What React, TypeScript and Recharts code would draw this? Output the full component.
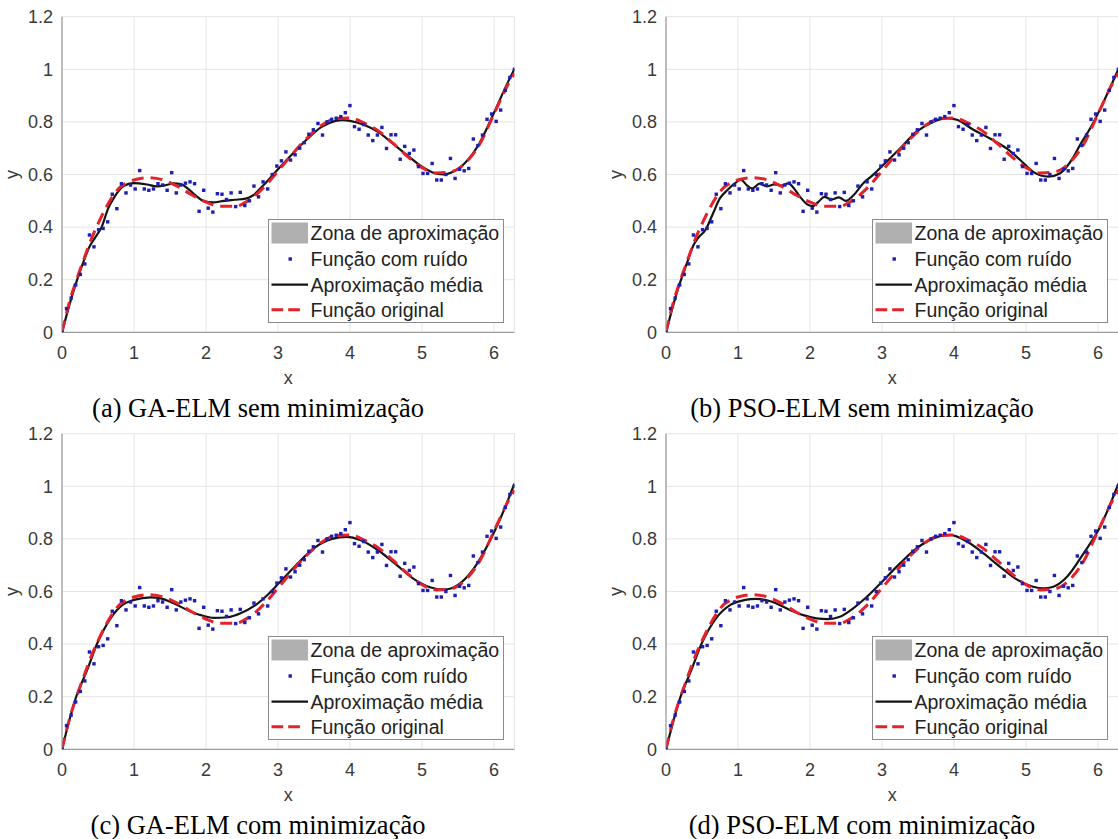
import { ComposedChart, Line, Scatter, XAxis, YAxis, CartesianGrid } from 'recharts'

// noisy samples (same in all four panels)
const noiseX = [
  0, 0.063, 0.127, 0.19, 0.254, 0.317, 0.381, 0.444, 0.508, 0.571, 0.635, 0.698, 0.762, 0.825, 0.889, 0.952,
  1.016, 1.079, 1.143, 1.206, 1.27, 1.333, 1.397, 1.46, 1.524, 1.587, 1.651, 1.714, 1.778, 1.841, 1.904, 1.968,
  2.031, 2.095, 2.158, 2.222, 2.285, 2.349, 2.412, 2.476, 2.539, 2.603, 2.666, 2.73, 2.793, 2.857, 2.92, 2.984,
  3.047, 3.11, 3.174, 3.237, 3.301, 3.364, 3.428, 3.491, 3.555, 3.618, 3.682, 3.745, 3.808, 3.872, 3.935, 3.999,
  4.062, 4.126, 4.189, 4.253, 4.316, 4.38, 4.443, 4.507, 4.57, 4.634, 4.697, 4.76, 4.824, 4.887, 4.951, 5.014,
  5.078, 5.141, 5.205, 5.268, 5.332, 5.395, 5.459, 5.522, 5.586, 5.649, 5.713, 5.776, 5.84, 5.903, 5.967, 6.03,
  6.093, 6.157, 6.22, 6.283,
]
const noiseY = [
  0, 0.09, 0.13, 0.18, 0.22, 0.26, 0.37, 0.325, 0.39, 0.395, 0.42, 0.525, 0.47, 0.565, 0.53, 0.56,
  0.545, 0.615, 0.545, 0.54, 0.545, 0.565, 0.56, 0.54, 0.607, 0.53, 0.56, 0.567, 0.572, 0.565, 0.46, 0.54,
  0.472, 0.457, 0.527, 0.525, 0.505, 0.53, 0.478, 0.532, 0.482, 0.5, 0.556, 0.515, 0.572, 0.545, 0.6, 0.632,
  0.652, 0.686, 0.655, 0.675, 0.7, 0.721, 0.753, 0.77, 0.794, 0.75, 0.8, 0.81, 0.814, 0.82, 0.835, 0.862,
  0.782, 0.772, 0.79, 0.75, 0.729, 0.75, 0.779, 0.699, 0.751, 0.751, 0.658, 0.707, 0.68, 0.693, 0.63, 0.604,
  0.604, 0.642, 0.579, 0.579, 0.6, 0.661, 0.585, 0.62, 0.614, 0.623, 0.735, 0.71, 0.75, 0.81, 0.83, 0.802,
  0.845, 0.92, 0.969, 1.0,
]

// original function (red dashed)
const origX = [0, 0.1, 0.2, 0.3, 0.4, 0.5, 0.6, 0.7, 0.8, 0.9, 1.0, 1.2, 1.4, 1.6, 1.8, 2.0, 2.2, 2.4, 2.6, 2.8, 3.0, 3.2, 3.4, 3.6, 3.8, 4.0, 4.2, 4.4, 4.6, 4.8, 5.0, 5.2, 5.4, 5.6, 5.8, 6.0, 6.2, 6.283]
const origY = [0, 0.112, 0.198, 0.275, 0.35, 0.412, 0.468, 0.515, 0.55, 0.568, 0.579, 0.588, 0.58, 0.556, 0.523, 0.495, 0.479, 0.479, 0.503, 0.55, 0.613, 0.678, 0.738, 0.786, 0.812, 0.815, 0.795, 0.765, 0.718, 0.668, 0.626, 0.606, 0.61, 0.643, 0.715, 0.83, 0.945, 0.985]

// mean approximation (black) per panel
const gaSemX = [0, 0.15, 0.3, 0.39, 0.46, 0.55, 0.64, 0.74, 0.85, 0.99, 1.18, 1.32, 1.45, 1.55, 1.65, 1.74, 1.85, 1.97, 2.1, 2.25, 2.4, 2.55, 2.65, 2.8, 3.0, 3.2, 3.4, 3.6, 3.8, 3.9, 4.0, 4.2, 4.4, 4.6, 4.8, 5.0, 5.2, 5.3, 5.4, 5.6, 5.8, 6.0, 6.2, 6.283]
const gaSemY = [0, 0.148, 0.27, 0.33, 0.36, 0.4, 0.47, 0.52, 0.555, 0.567, 0.562, 0.555, 0.56, 0.566, 0.564, 0.548, 0.522, 0.499, 0.494, 0.5, 0.504, 0.508, 0.52, 0.56, 0.62, 0.678, 0.733, 0.78, 0.804, 0.807, 0.804, 0.788, 0.76, 0.716, 0.672, 0.63, 0.603, 0.6, 0.607, 0.645, 0.72, 0.835, 0.955, 1.0]

const psoSemX = [0, 0.15, 0.3, 0.38, 0.45, 0.55, 0.65, 0.75, 0.85, 0.95, 1.04, 1.12, 1.2, 1.3, 1.4, 1.5, 1.6, 1.7, 1.77, 1.86, 1.97, 2.04, 2.12, 2.2, 2.3, 2.4, 2.5, 2.6, 2.74, 2.86, 3.02, 3.25, 3.48, 3.71, 3.9, 4.04, 4.27, 4.5, 4.73, 4.92, 5.1, 5.31, 5.47, 5.66, 5.75, 5.9, 6.05, 6.2, 6.283]
const psoSemY = [0, 0.15, 0.27, 0.33, 0.36, 0.39, 0.45, 0.51, 0.54, 0.565, 0.58, 0.56, 0.547, 0.565, 0.555, 0.562, 0.558, 0.566, 0.55, 0.516, 0.485, 0.48, 0.497, 0.515, 0.505, 0.513, 0.5, 0.52, 0.567, 0.595, 0.637, 0.699, 0.763, 0.8, 0.814, 0.808, 0.77, 0.737, 0.699, 0.655, 0.61, 0.592, 0.604, 0.667, 0.712, 0.78, 0.86, 0.95, 1.0]

const gaComX = [0, 0.19, 0.35, 0.49, 0.675, 0.84, 1.0, 1.23, 1.37, 1.55, 1.74, 1.93, 2.11, 2.3, 2.48, 2.67, 2.85, 3.01, 3.25, 3.5, 3.75, 3.95, 4.15, 4.4, 4.65, 4.9, 5.1, 5.3, 5.5, 5.7, 5.9, 6.1, 6.283]
const gaComY = [0, 0.194, 0.302, 0.403, 0.498, 0.549, 0.568, 0.578, 0.574, 0.555, 0.53, 0.51, 0.5, 0.502, 0.517, 0.545, 0.586, 0.631, 0.7, 0.765, 0.8, 0.808, 0.795, 0.755, 0.7, 0.645, 0.617, 0.607, 0.625, 0.68, 0.77, 0.885, 1.01]

const psoComX = [0, 0.19, 0.35, 0.5, 0.7, 0.9, 1.1, 1.25, 1.45, 1.72, 1.907, 2.09, 2.25, 2.416, 2.6, 2.79, 3.0, 3.25, 3.48, 3.71, 3.94, 4.18, 4.41, 4.64, 4.87, 5.1, 5.24, 5.38, 5.57, 5.8, 6.03, 6.283]
const psoComY = [0, 0.19, 0.3, 0.405, 0.5, 0.55, 0.568, 0.572, 0.563, 0.53, 0.51, 0.498, 0.495, 0.504, 0.536, 0.58, 0.637, 0.707, 0.764, 0.802, 0.815, 0.79, 0.745, 0.694, 0.646, 0.618, 0.612, 0.618, 0.656, 0.745, 0.846, 1.01]

const xTicks = [0, 1, 2, 3, 4, 5, 6]
const yTicks = [0, 0.2, 0.4, 0.6, 0.8, 1, 1.2]
const legendLabels = ['Zona de aproximação', 'Função com ruído', 'Aproximação média', 'Função original']
const captions = [
  '(a) GA-ELM sem minimização',
  '(b) PSO-ELM sem minimização',
  '(c) GA-ELM com minimização',
  '(d) PSO-ELM com minimização',
]

const zip = (xs: number[], ys: number[]) => xs.map((x, i) => ({ x, y: ys[i] }))
const noise = zip(noiseX, noiseY)
const orig = zip(origX, origY)
const means = [zip(gaSemX, gaSemY), zip(psoSemX, psoSemY), zip(gaComX, gaComY), zip(psoComX, psoComY)]

const sans = '"Liberation Sans", Arial, sans-serif'
const serif = '"Liberation Serif", "Times New Roman", serif'
const tick = { fontSize: 18, fill: '#3a3a3a', fontFamily: sans }

// plot geometry
const AXW = 62
const PW = 452.4
const PH = 315.6
const TOP = 16.7
const CW = 530
const CH = 440

const Dot = (p: any) => <rect x={p.cx - 1.7} y={p.cy - 1.7} width={3.4} height={3.4} fill="#1e1eb0" />

function Legend({ left, top }: { left: number; top: number }) {
  const rows = [14, 40, 65.7, 90.7]
  return (
    <div
      style={{
        position: 'absolute',
        left,
        top,
        width: 236,
        height: 104,
        boxSizing: 'border-box',
        border: '1px solid #8c8c8c',
        background: '#fff',
      }}
    >
      <svg width={234} height={102} style={{ display: 'block' }}>
        <rect x={2.5} y={2.5} width={36.5} height={21} fill="#b0b0b0" />
        <rect x={19.5} y={rows[1] - 2.7} width={3.4} height={3.4} fill="#1e1eb0" />
        <line x1={2.5} x2={39} y1={rows[2] - 1} y2={rows[2] - 1} stroke="#141414" strokeWidth={2.2} />
        <line x1={2.5} x2={31} y1={rows[3] - 1} y2={rows[3] - 1} stroke="#e4222b" strokeWidth={3} strokeDasharray="11.7 5" />
        {legendLabels.map((t, i) => (
          <text key={t} x={41.5} y={rows[i] + 6} fontSize={19.5} fontFamily={sans} fill="#222">
            {t}
          </text>
        ))}
      </svg>
    </div>
  )
}

function Panel({ idx, x0, rowTop }: { idx: number; x0: number; rowTop: number }) {
  const y0 = rowTop + TOP + PH
  return (
    <>
      <div style={{ position: 'absolute', left: x0 - AXW, top: rowTop }}>
        <ComposedChart
          width={CW}
          height={CH}
          margin={{ top: TOP, right: CW - AXW - PW, bottom: CH - TOP - PH - 30, left: 0 }}
        >
          <CartesianGrid stroke="#e4e4e4" strokeWidth={1} />
          <XAxis
            type="number"
            dataKey="x"
            domain={[0, 6.2832]}
            ticks={xTicks}
            allowDataOverflow
            height={30}
            tick={tick}
            tickLine={false}
            tickSize={0}
            tickMargin={14}
            axisLine={{ stroke: '#8a8a8a' }}
          />
          <YAxis
            type="number"
            dataKey="y"
            domain={[0, 1.2]}
            ticks={yTicks}
            allowDataOverflow
            width={AXW}
            tick={tick}
            tickLine={false}
            tickSize={0}
            tickMargin={9}
            axisLine={{ stroke: '#8a8a8a' }}
            tickFormatter={(v: number) => String(Number(v.toFixed(1)))}
          />
          <Scatter data={noise} dataKey="y" shape={Dot} isAnimationActive={false} />
          <Line data={means[idx]} dataKey="y" type="monotone" stroke="#141414" strokeWidth={2.2} dot={false} isAnimationActive={false} />
          <Line data={orig} dataKey="y" type="monotone" stroke="#e4222b" strokeWidth={3} strokeDasharray="12 7" dot={false} isAnimationActive={false} />
        </ComposedChart>
      </div>
      <Legend left={x0 + 205.7} top={rowTop + 219} />
      <svg style={{ position: 'absolute', left: 0, top: 0, overflow: 'visible' }} width={1} height={1}>
        <text x={x0 + PW / 2} y={y0 + 51.7} textAnchor="middle" fontSize={18} fontFamily={sans} fill="#3a3a3a">
          x
        </text>
        <text
          x={x0 - 44.2}
          y={y0 - 0.6 * (PH / 1.2)}
          textAnchor="middle"
          fontSize={18}
          fontFamily={sans}
          fill="#3a3a3a"
          transform={`rotate(-90 ${x0 - 44.2} ${y0 - 0.6 * (PH / 1.2)})`}
        >
          y
        </text>
        <text x={x0 + 196} y={rowTop + 417} textAnchor="middle" fontSize={26.5} fontFamily={serif} fill="#000">
          {captions[idx]}
        </text>
      </svg>
    </>
  )
}

export default function App() {
  return (
    <div
      style={{
        position: 'absolute',
        left: 0,
        top: 0,
        width: 1118,
        height: 839,
        overflow: 'hidden',
        background: '#fff',
      }}
    >
      <Panel idx={0} x0={62} rowTop={0} />
      <Panel idx={1} x0={666} rowTop={0} />
      <Panel idx={2} x0={62} rowTop={417} />
      <Panel idx={3} x0={666} rowTop={417} />
    </div>
  )
}
